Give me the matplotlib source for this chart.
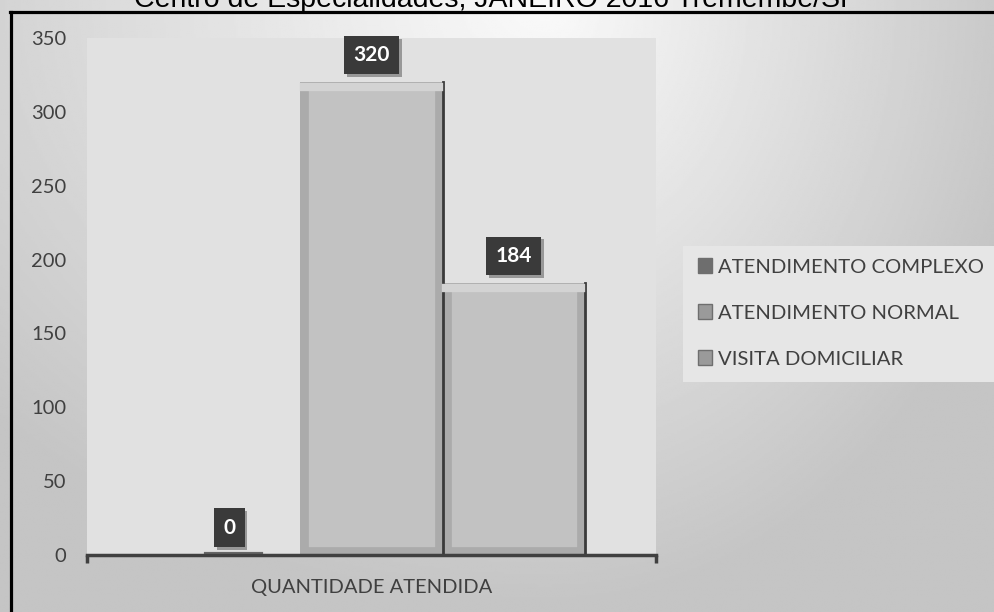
import numpy as np
import matplotlib
matplotlib.use('Agg')
import matplotlib.pyplot as plt
from matplotlib.patches import Rectangle
from matplotlib.lines import Line2D
import matplotlib.patheffects as pe

# dados do grafico
categoria = ['QUANTIDADE ATENDIDA']
series = ['ATENDIMENTO COMPLEXO', 'ATENDIMENTO NORMAL', 'VISITA DOMICILIAR']
valores = [0, 320, 184]
titulo = 'Centro de Especialidades, JANEIRO 2016 Tremembé/SP'

plt.rcParams['font.family'] = ['Lato', 'DejaVu Sans']

fig = plt.figure(figsize=(9.94, 6.12), dpi=100)

# fundo em degrade
bg = fig.add_axes([0, 0, 1, 1], zorder=-10)
yy, xx = np.mgrid[0:1:300j, 0:1:500j]
dx = np.where(xx > 0.55, (xx - 0.55) / 0.45, (xx - 0.55) / 0.7)
dy = (1 - yy) / 0.9
grad = 0.98 - 0.19 * np.sqrt(dx ** 2 + dy ** 2)
grad = np.clip(grad, 0.77, 1.0)
bg.imshow(grad, cmap='gray', vmin=0, vmax=1, extent=[0, 1, 0, 1],
          origin='lower', aspect='auto')
bg.set_axis_off()

# moldura preta
fig.add_artist(Line2D([10 / 994, 1], [1 - 12 / 612] * 2, color='black', lw=2.3,
                      transform=fig.transFigure))
fig.add_artist(Line2D([11 / 994] * 2, [0, 1 - 12 / 612], color='black', lw=2.3,
                      transform=fig.transFigure))

# titulo (cortado no topo)
fig.text(0.5, 1 - 7 / 612, titulo, ha='center', va='baseline', fontsize=20.5,
         family='Liberation Sans', color='black')

ax = fig.add_axes([87 / 994, 57 / 612, (656 - 87) / 994, (572 - 57) / 612 + 0.003])
ax.set_facecolor('#e1e1e1')

largura = 0.25
posicoes = [(i - 1) * largura for i in range(len(series))]
for pos, val, nome in zip(posicoes, valores, series):
    b = ax.bar(pos, val, width=largura, color='#c2c2c2', edgecolor='#ababab',
               linewidth=12, zorder=3, label=nome)[0]
    b.set_clip_path(b)
    # separador escuro a direita
    if val > 0:
        ax.plot([b.get_x() + b.get_width()] * 2, [0, b.get_height()],
                color='#3a3a3a', lw=2, zorder=4)
        ax.plot([b.get_x() + 0.006, b.get_x() + b.get_width() - 0.006],
                [b.get_height() - 3] * 2, color='#d3d3d3', lw=6, zorder=4)
    else:
        ax.plot([b.get_x() + 0.085, b.get_x() + b.get_width() - 0.07], [0.6, 0.6],
                color='#666666', lw=3, zorder=4)

    t = ax.annotate(f'{val}', (pos, val), xytext=(0, 12.5), textcoords='offset points',
                    ha='center', va='bottom', fontsize=15, fontweight='bold',
                    color='white', zorder=6,
                    bbox=dict(boxstyle='square,pad=0.45', fc='#3a3a3a', ec='none'))
    t.get_bbox_patch().set_path_effects([pe.SimplePatchShadow(offset=(2, -2), alpha=0.35),
                                         pe.Normal()])

ax.set_xlim(-0.5, 0.5)
ax.set_ylim(0, 350)
ax.set_yticks(range(0, 351, 50))
ax.set_xticks([0])
ax.set_xticklabels(categoria)
ax.set_xticks([-0.5, 0.5], minor=True)
ax.tick_params(axis='y', length=0, pad=15, labelsize=14.5, labelcolor='#404040')
ax.tick_params(axis='x', which='major', length=0, pad=17, labelsize=14.5,
               labelcolor='#404040')
ax.tick_params(axis='x', which='minor', length=6, width=2.5, color='#404040',
               direction='out')
for s in ['left', 'right', 'top']:
    ax.spines[s].set_visible(False)
ax.spines['bottom'].set_color('#404040')
ax.spines['bottom'].set_linewidth(2.5)
ax.spines['bottom'].set_zorder(5)

# legenda
fig.add_artist(Rectangle((683 / 994, 1 - 382 / 612), 1, 136 / 612, facecolor='#e6e6e6',
                         edgecolor='none', transform=fig.transFigure, zorder=-5))
handles = [Rectangle((0, 0), 1, 1, facecolor='#6e6e6e', edgecolor='#6e6e6e'),
           Rectangle((0, 0), 1, 1, facecolor='#9a9a9a', edgecolor='#6e6e6e'),
           Rectangle((0, 0), 1, 1, facecolor='#9a9a9a', edgecolor='#6e6e6e')]
fig.legend(handles, series, loc='center left', bbox_to_anchor=(690 / 994, 1 - 313 / 612),
           frameon=False, fontsize=14.6, labelcolor='#404040', handlelength=0.7,
           handleheight=0.7, handletextpad=0.3, labelspacing=1.42, borderaxespad=0)

fig.savefig('out.png', dpi=100)
